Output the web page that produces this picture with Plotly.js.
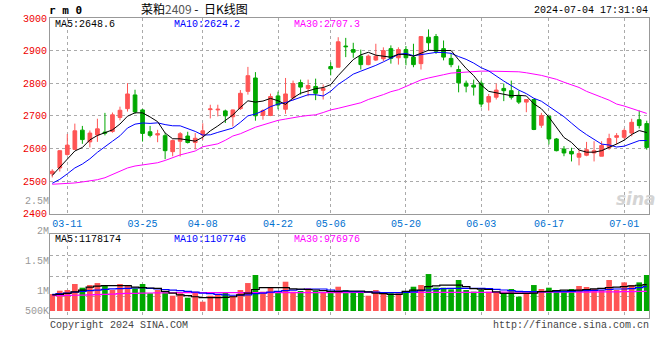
<!DOCTYPE html>
<html>
<head>
<meta charset="utf-8">
<script src="https://cdn.plot.ly/plotly-3.0.1.min.js"></script>
<style>html,body{margin:0;padding:0;background:#fff;}#chart{width:660px;height:360px;}</style>
</head>
<body>
<div id="chart"></div>
<script>
const DATES = [
 '2024-03-07','2024-03-08','2024-03-11','2024-03-12','2024-03-13','2024-03-14','2024-03-15','2024-03-18','2024-03-19','2024-03-20',
 '2024-03-21','2024-03-22','2024-03-25','2024-03-26','2024-03-27','2024-03-28','2024-03-29','2024-04-01','2024-04-02','2024-04-03',
 '2024-04-08','2024-04-09','2024-04-10','2024-04-11','2024-04-12','2024-04-15','2024-04-16','2024-04-17','2024-04-18','2024-04-19',
 '2024-04-22','2024-04-23','2024-04-24','2024-04-25','2024-04-26','2024-04-29','2024-04-30','2024-05-06','2024-05-07','2024-05-08',
 '2024-05-09','2024-05-10','2024-05-13','2024-05-14','2024-05-15','2024-05-16','2024-05-17','2024-05-20','2024-05-21','2024-05-22',
 '2024-05-23','2024-05-24','2024-05-27','2024-05-28','2024-05-29','2024-05-30','2024-05-31','2024-06-03','2024-06-04','2024-06-05',
 '2024-06-06','2024-06-07','2024-06-11','2024-06-12','2024-06-13','2024-06-14','2024-06-17','2024-06-18','2024-06-19','2024-06-20',
 '2024-06-21','2024-06-24','2024-06-25','2024-06-26','2024-06-27','2024-06-28','2024-07-01','2024-07-02','2024-07-03','2024-07-04'
];
const OPEN = [
 2522,2540,2581,2597,2656,2620,2641,2650,2652,2695,
 2722,2764,2718,2651,2641,2639,2590,2622,2638,2618,
 2641,2719,2718,2715,2697,2722,2775,2816,2701,2701,
 2761,2720,2755,2802,2784,2790,2778,2851,2849,2914,
 2903,2883,2857,2871,2875,2906,2878,2903,2880,2860,
 2941,2943,2906,2876,2842,2800,2794,2800,2742,2757,
 2784,2777,2762,2742,2750,2671,2699,2629,2598,2591,
 2573,2579,2586,2576,2602,2634,2634,2647,2688,2676
];
const HIGH = [
 2536,2594,2644,2676,2669,2655,2691,2709,2710,2728,
 2800,2780,2721,2669,2657,2647,2627,2650,2651,2647,
 2677,2734,2734,2719,2719,2779,2850,2834,2720,2768,
 2774,2816,2808,2811,2811,2814,2796,2864,2941,2939,
 2924,2903,2888,2921,2910,2916,2910,2914,2921,2943,
 2965,2951,2931,2893,2854,2808,2811,2808,2767,2799,
 2799,2808,2777,2750,2752,2709,2699,2632,2607,2602,
 2596,2620,2622,2622,2645,2647,2661,2691,2716,2685
];
const LOW = [
 2511,2529,2578,2595,2614,2603,2620,2640,2648,2686,
 2713,2706,2621,2634,2619,2567,2576,2575,2615,2597,
 2626,2692,2698,2678,2667,2718,2765,2685,2688,2699,
 2720,2706,2747,2765,2760,2748,2750,2824,2849,2880,
 2878,2842,2855,2868,2868,2860,2857,2855,2849,2842,
 2900,2890,2870,2849,2772,2772,2762,2726,2716,2750,
 2745,2750,2736,2711,2656,2663,2612,2591,2576,2560,
 2548,2576,2560,2576,2596,2612,2627,2637,2661,2596
];
const CLOSE = [
 2530,2593,2610,2654,2627,2647,2660,2647,2703,2717,
 2767,2712,2646,2640,2645,2593,2624,2645,2618,2631,
 2654,2721,2720,2700,2718,2769,2823,2700,2716,2759,
 2733,2767,2799,2788,2793,2769,2784,2844,2927,2912,
 2895,2857,2883,2883,2900,2876,2903,2878,2857,2943,
 2924,2898,2880,2857,2801,2791,2788,2736,2759,2779,
 2777,2757,2742,2750,2658,2701,2629,2593,2586,2583,
 2584,2596,2593,2609,2630,2639,2655,2680,2670,2603
];
const MA5 = [
 2517,2542,2568,2592,2602.8,2626.2,2639.6,2647,2656.8,2674.8,
 2698.8,2709.2,2709,2696.4,2682,2647.2,2629.6,2629.4,2625,2622.2,
 2634.4,2653.8,2668.8,2685.2,2702.6,2725.6,2746,2742,2745.2,2753.4,
 2746.2,2735,2754.8,2769.2,2776,2783.2,2786.6,2795.6,2823.4,2847.2,
 2872.4,2887,2894.8,2886,2883.6,2879.8,2889,2888,2882.8,2891.4,
 2901,2900,2900.4,2900.4,2872,2845.4,2823.4,2794.6,2775,2770.6,
 2767.8,2761.6,2762.8,2761,2736.8,2721.6,2696,2666.2,2633.4,2618.4,
 2595,2588.4,2588.4,2593,2602.4,2613.4,2625.2,2642.6,2654.8,2648.6
];
const MA10 = [
 2493,2505,2522,2540,2552,2568,2588,2604,2622,2638.8,
 2662.5,2674.4,2678,2676.6,2678.4,2673,2669.4,2669.2,2660.7,2652.1,
 2640.8,2641.7,2649.1,2655.1,2662.4,2680,2699.9,2705.4,2715.2,2728,
 2735.9,2740.5,2748.4,2757.2,2764.7,2764.7,2760.8,2775.2,2796.3,2811.6,
 2827.8,2836.8,2845.2,2854.7,2865.4,2876.1,2888,2891.4,2884.4,2887.5,
 2890.4,2894.5,2894.2,2891.6,2881.7,2873.2,2861.7,2847.5,2837.7,2821.3,
 2806.6,2792.5,2778.7,2768,2753.7,2744.7,2728.8,2714.5,2697.2,2677.6,
 2658.3,2642.2,2627.3,2613.2,2610.4,2604.2,2606.8,2615.5,2623.9,2624.2
];
const MA30 = [
 2490,2491,2492,2494,2497,2500,2504,2510,2520,2530,
 2540,2546,2549,2552,2556,2563,2572,2580,2586,2592,
 2605,2610,2614,2625,2638,2645,2655,2665,2672,2680,
 2686,2690,2695,2698,2701,2703,2710,2718,2723,2729,
 2734,2740,2750,2757,2765,2774,2780,2790,2800,2810,
 2816,2822,2826,2831,2833,2835,2836,2837,2837,2837,
 2836,2836,2835,2832,2829,2824,2818,2812,2803,2795,
 2787,2775,2767,2757,2748,2736,2730,2722,2716,2707.3
];
const VOL = [
 945000,1000000,1012000,1111000,1050000,1094000,1127000,1094000,1012000,1111000,
 1078000,1040000,1111000,957000,1012000,984000,917000,957000,884000,984000,
 818000,917000,945000,967000,912000,1012000,1127000,1260000,984000,1050000,
 995000,1149000,984000,995000,1040000,1000000,967000,995000,1066000,1012000,
 984000,984000,917000,1012000,967000,957000,957000,995000,1066000,1094000,
 1276000,1050000,1050000,1023000,1177000,1012000,984000,1012000,984000,967000,
 957000,1028000,901000,957000,1094000,1028000,1050000,1012000,1000000,1028000,
 1078000,1061000,1028000,1012000,1177000,1012000,1138000,1094000,1138000,1260000
];
const VMA5 = [
 930000,940000,957000,980000,1010000,1060000,1075000,1083000,1083000,1083000,
 1083000,1060000,1050000,1045000,1040000,990000,960000,930000,917000,900000,
 884000,884000,884000,890000,900000,930000,960000,1020000,1050000,1050000,
 1050000,1050000,1030000,1025000,1020000,1012000,1000000,990000,984000,995000,
 995000,995000,980000,960000,950000,940000,940000,990000,1010000,1012000,
 1066000,1080000,1094000,1094000,1094000,1066000,1035000,1025000,1020000,980000,
 957000,957000,957000,957000,960000,985000,990000,1000000,1010000,1005000,
 1010000,1020000,1030000,1040000,1050000,1060000,1066000,1080000,1090000,1100000
];
const VMA10 = [
 940000,950000,960000,975000,990000,1000000,1010000,1023000,1030000,1035000,
 1040000,1045000,1050000,1040000,1030000,1020000,1010000,1000000,990000,975000,
 960000,950000,940000,930000,925000,925000,930000,950000,960000,975000,
 990000,1000000,1010000,1020000,1025000,1028000,1028000,1012000,995000,990000,
 984000,984000,980000,975000,970000,967000,967000,970000,980000,1000000,
 1012000,1023000,1035000,1039000,1039000,1039000,1039000,1039000,1035000,1023000,
 1012000,1000000,990000,984000,984000,984000,984000,984000,984000,990000,
 995000,1000000,1005000,1012000,1020000,1028000,1028000,1035000,1050000,1066000
];
const VMA30 = [
 918000,920000,922000,925000,928000,930000,935000,940000,945000,950000,
 955000,957000,960000,962000,964000,965000,966000,967000,967000,967000,
 967000,967000,967000,967000,967000,967000,967000,967000,967000,967000,
 967000,967000,967000,967000,967000,967000,967000,967000,967000,967000,
 970000,970000,970000,970000,970000,970000,970000,970000,970000,970000,
 972000,972000,972000,972000,972000,972000,972000,972000,972000,972000,
 975000,975000,975000,975000,975000,975000,975000,975000,975000,975000,
 978000,978000,980000,980000,982000,982000,984000,986000,988000,990000
];
const TICK_DATES = ['2024-03-11','2024-03-25','2024-04-08','2024-04-22','2024-05-06','2024-05-20','2024-06-03','2024-06-17','2024-07-01'];
const TICK_LABELS = ['03-11','03-25','04-08','04-22','05-06','05-20','06-03','06-17','07-01'];
const PRICE_TICKS = [2400,2500,2600,2700,2800,2900,3000];
const VOL_LABEL_TEXT = ['500K','1M','1.5M','2M','2.5M'];
const VOL_LABEL_VALS = [664000,1000000,1500000,2000000,2500000];
const VOL_BASE = 664000;

const UP = '#ff5555', DOWN = '#00a800';
const MONO = 'Liberation Mono, DejaVu Sans Mono, monospace';
const GRID = '#aaaaaa', BORDER = '#999999';

const volColors = CLOSE.map((c, i) => c >= OPEN[i] ? UP : DOWN);

const traces = [
  {type:'candlestick', x:DATES, open:OPEN, high:HIGH, low:LOW, close:CLOSE, xaxis:'x', yaxis:'y',
   increasing:{line:{color:UP, width:1}, fillcolor:UP},
   decreasing:{line:{color:DOWN, width:1}, fillcolor:DOWN},
   whiskerwidth:0, hoverinfo:'skip', showlegend:false},
  {type:'scatter', mode:'lines', x:DATES, y:MA30, xaxis:'x', yaxis:'y', line:{color:'#ff00ff', width:1}, hoverinfo:'skip'},
  {type:'scatter', mode:'lines', x:DATES, y:MA10, xaxis:'x', yaxis:'y', line:{color:'#0000ff', width:1}, hoverinfo:'skip'},
  {type:'scatter', mode:'lines', x:DATES, y:MA5, xaxis:'x', yaxis:'y', line:{color:'#000000', width:1}, hoverinfo:'skip'},
  {type:'bar', x:DATES, y:VOL.map(v => v - VOL_BASE), base:VOL_BASE, xaxis:'x2', yaxis:'y2',
   marker:{color:volColors, line:{width:0}}, hoverinfo:'skip'},
  {type:'scatter', mode:'lines', x:DATES, y:VMA30, xaxis:'x2', yaxis:'y2', line:{color:'#ff00ff', width:1.2, shape:'hvh'}, hoverinfo:'skip'},
  {type:'scatter', mode:'lines', x:DATES, y:VMA10, xaxis:'x2', yaxis:'y2', line:{color:'#0000ff', width:1.2, shape:'hvh'}, hoverinfo:'skip'},
  {type:'scatter', mode:'lines', x:DATES, y:VMA5, xaxis:'x2', yaxis:'y2', line:{color:'#000000', width:1.2, shape:'hvh'}, hoverinfo:'skip'},
  {type:'scatter', mode:'markers', x:[], y:[], xaxis:'x3', yaxis:'y3', hoverinfo:'skip'}
];

const W = 599.3, H = 300, L = 50, T = 18;
const px = x => (x - L) / W;
const py = y => (T + H - y) / H;

function ann(text, x, y, color, xanchor, extra) {
  return Object.assign({text:text, x:px(x), y:py(y), xref:'paper', yref:'paper', xanchor:xanchor||'left', yanchor:'middle',
    showarrow:false, borderpad:0, font:{family:MONO, size:10, color:color}}, extra||{});
}

const layout = {
  width:660, height:360,
  margin:{l:50, r:11, t:18, b:42},
  paper_bgcolor:'#ffffff', plot_bgcolor:'rgba(0,0,0,0)',
  showlegend:false, bargap:0.25, boxgap:0.3,
  font:{family:MONO, size:10, color:'#000'},
  xaxis:{type:'category', domain:[0,1], anchor:'y', range:[-0.3,79.3], tickmode:'array', tickvals:TICK_DATES, ticktext:TICK_LABELS,
    showgrid:true, gridcolor:GRID, griddash:'dot', gridwidth:1, showline:true, mirror:true, linecolor:BORDER, linewidth:1,
    ticks:'', tickfont:{family:MONO, size:10, color:'#0070d0'}, rangeslider:{visible:false}, fixedrange:true, zeroline:false},
  yaxis:{domain:[0.348,1], range:[2400,3000], tickmode:'array', tickvals:PRICE_TICKS, showgrid:true, gridcolor:GRID, griddash:'dot',
    showline:true, mirror:true, linecolor:BORDER, linewidth:1, ticks:'', tickfont:{family:MONO, size:10, color:'#ee0000'}, zeroline:false, fixedrange:true},
  xaxis2:{type:'category', domain:[0,1], anchor:'y2', matches:'x', range:[-0.3,79.3], tickmode:'array', tickvals:TICK_DATES, showticklabels:false,
    showgrid:true, gridcolor:GRID, griddash:'dot', gridwidth:1, showline:true, mirror:true, linecolor:BORDER, linewidth:1, ticks:'', zeroline:false},
  yaxis2:{domain:[0,0.28], anchor:'x2', range:[548000,1939000], tickmode:'array', tickvals:[896000,1243000,1591000], showticklabels:false,
    showgrid:true, gridcolor:GRID, griddash:'dot', showline:true, mirror:true, linecolor:BORDER, linewidth:1, ticks:'', zeroline:false},
  xaxis3:{domain:[0,1], anchor:'y3', visible:false, range:[0,1]},
  yaxis3:{domain:[0,0.41], anchor:'x3', range:[548000,2584000], tickmode:'array', tickvals:VOL_LABEL_VALS, ticktext:VOL_LABEL_TEXT,
    showgrid:false, showline:false, zeroline:false, ticks:'', tickfont:{family:MONO, size:10, color:'#999999'}},
  annotations:[
    ann('<b>r m 0</b>', 48, 10, '#000', 'left', {font:{family:'DejaVu Sans Mono, monospace', size:11, color:'#000'}}),
    ann('菜粕<span style="color:#555">2409\u00a0</span>-\u00a0\u00a0日K线图', 140, 9, '#000', 'left', {font:{family:'Noto Sans CJK SC, sans-serif', size:12, color:'#000'}}),
    ann('2024-07-04 17:31:04', 649, 11, '#000', 'right'),
    ann('MA5:2648.6', 54, 25, '#000000'),
    ann('MA10:2624.2', 173, 25, '#0000ff'),
    ann('MA30:2707.3', 293, 25, '#ff00ff'),
    ann('MA5:1178174', 54, 239, '#000000'),
    ann('MA10:1107746', 173, 239, '#0000ff'),
    ann('MA30:976976', 293, 239, '#ff00ff'),
    ann('Copyright 2024 SINA.COM', 49, 325, '#444444'),
    ann('http://finance.sina.com.cn', 650, 325, '#444444', 'right'),
    ann('<i><b>sina</b></i>', 636, 199, '#d4d4d4', 'center', {font:{family:'DejaVu Sans, sans-serif', size:17, color:'#d4d4d4'}})
  ]
};

Plotly.newPlot('chart', traces, layout, {staticPlot:true, displayModeBar:false});
</script>
</body>
</html>
